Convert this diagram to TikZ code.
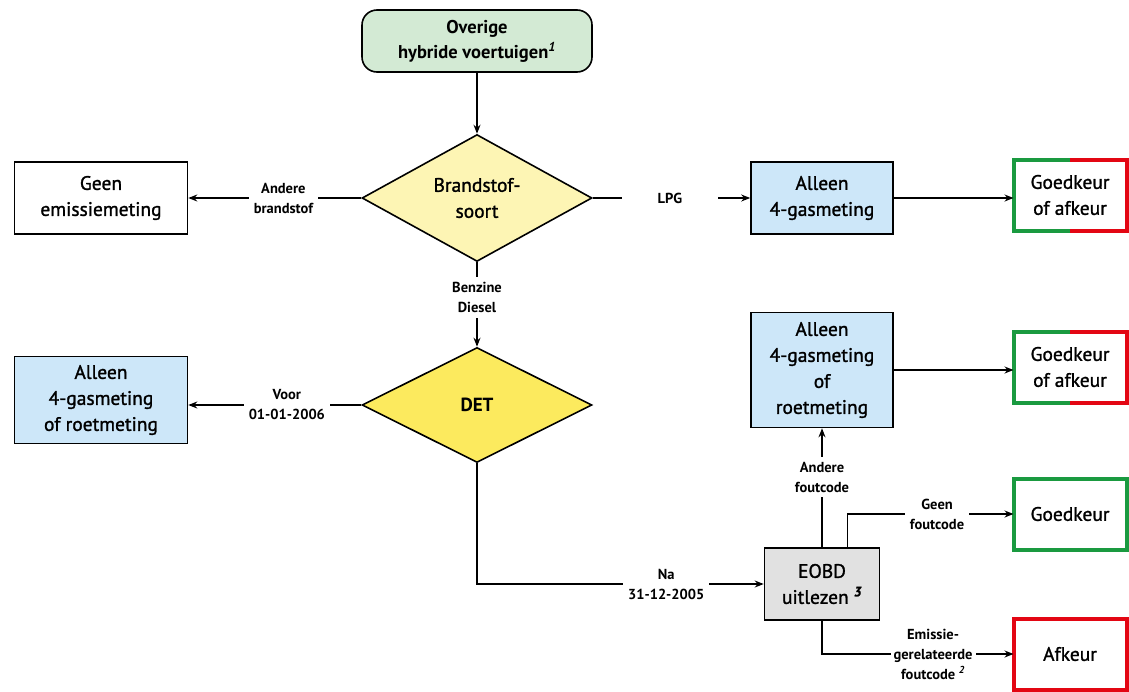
\documentclass[tikz,border=0pt]{standalone}
\usepackage{fontspec}
\setmainfont{PT Sans}
\newfontfamily\semibold[FakeBold=1.3]{PT Sans}
\usetikzlibrary{shapes.geometric,arrows.meta}
\definecolor{startgreen}{HTML}{D3EAD4}
\definecolor{paleyellow}{HTML}{FDF5B4}
\definecolor{detyellow}{HTML}{FCEA5E}
\definecolor{paleblue}{HTML}{CDE7F9}
\definecolor{palegray}{HTML}{E1E1E1}
\definecolor{okgreen}{HTML}{1A9A40}
\definecolor{notred}{HTML}{E30613}
\newcommand{\GK}[0]{okgreen}
\newcommand{\AK}[0]{notred}
\newcommand{\Note}[1]{\textsuperscript{\textbf{\textit{#1}}}}

\begin{document}
\begin{tikzpicture}[x=1pt, y=-1pt,
  nodefont/.style={font=\semibold\fontsize{19.5}{26}\selectfont},
  box/.style={draw, line width=1.6pt, align=center, nodefont,
    minimum width=173pt, minimum height=72pt, inner sep=2pt},
  bluebox/.style={box, fill=paleblue, minimum width=142pt},
  verdict/.style={align=center, nodefont, minimum width=113pt,
    minimum height=71pt, inner sep=2pt, outer sep=0pt},
  choice/.style={diamond, draw, line width=1.6pt, align=center, nodefont,
    minimum width=230pt, minimum height=115pt, inner sep=0pt},
  elabel/.style={fill=white, align=center, inner sep=5pt,
    font=\bfseries\fontsize{14.5}{20}\selectfont},
  arr/.style={line width=1.4pt, -{Stealth[length=9pt,width=7pt]}},
  rim/.style={line width=4pt, line join=miter}]

  \useasboundingbox (0,0) rectangle (1129,691);

  %% start and decisions
  \node[box, fill=startgreen, rounded corners=15pt, minimum width=230pt,
    minimum height=62pt, font=\bfseries\fontsize{18.5}{25}\selectfont]
    (start) at (477,41) {Overige\\hybride voertuigen\Note{1}};
  \node[choice, fill=paleyellow] (fuel) at (477,198) {Brandstof-\\soort};
  \node[choice, fill=detyellow, font=\bfseries\fontsize{19}{25}\selectfont]
    (det) at (477,405) {DET};

  %% left column
  \node[box] (noemis) at (101,198) {Geen\\emissiemeting};
  \node[bluebox, minimum width=173pt, minimum height=87pt] (roetl) at (101,400)
    {Alleen\\4-gasmeting\\of roetmeting};

  %% right column
  \node[bluebox] (lpgbox) at (822,198) {Alleen\\4-gasmeting};
  \node[bluebox, minimum height=115pt] (roetr) at (822,370)
    {Alleen\\4-gasmeting\\of\\roetmeting};
  \node[box, fill=palegray, minimum width=115pt] (eobd) at (822,584)
    {EOBD\\uitlezen \Note{3}};

  %% verdicts
  \node[verdict] (gk1) at (1070,195) {Goedkeur\\of afkeur};
  \node[verdict] (gk2) at (1070,367) {Goedkeur\\of afkeur};
  \node[verdict] (ok) at (1070,514) {Goedkeur};
  \node[verdict] (fail) at (1070,654) {Afkeur};

  \foreach \v in {gk1,gk2}{
    \draw[rim, \GK] (\v.north) -- (\v.north west) -- (\v.south west) -- (\v.south);
    \draw[rim, \AK] (\v.north) -- (\v.north east) -- (\v.south east) -- (\v.south);
  }
  \draw[rim, \GK] (ok.north west) rectangle (ok.south east);
  \draw[rim, \AK] (fail.north west) rectangle (fail.south east);

  %% connectors
  \draw[arr] (start) -- (fuel);
  \draw[arr] (fuel.west) -- node[elabel, pos=0.45]{Andere\\brandstof} (noemis.east);
  \draw[arr] (fuel.east) -- node[elabel, pos=0.49, inner xsep=36pt]{LPG} (lpgbox.west);
  \draw[arr] (fuel.south) -- node[elabel, pos=0.42]{Benzine\\Diesel} (det.north);
  \draw[arr] (det.west) -- node[elabel, pos=0.43]{Voor\\01-01-2006} (det.west -| roetl.east);
  \draw[arr] (det.south) |- node[elabel, pos=0.83]{Na\\31-12-2005} (eobd.west);

  \draw[arr] (lpgbox.east) -- (lpgbox.east -| gk1.west);
  \draw[arr] (roetr.east) -- (roetr.east -| gk2.west);

  \draw[arr] (eobd.north) -- node[elabel, pos=0.59]{Andere\\foutcode} (roetr.south);
  \draw[arr] ([xshift=-33pt]eobd.north east) |- node[elabel, pos=0.77]{Geen\\foutcode} (ok.west);
  \draw[arr] (eobd.south) |- node[elabel, pos=0.79, inner sep=3pt]
    {Emissie-\\gerelateerde\\foutcode \Note{2}} (fail.west);

\end{tikzpicture}
\end{document}
